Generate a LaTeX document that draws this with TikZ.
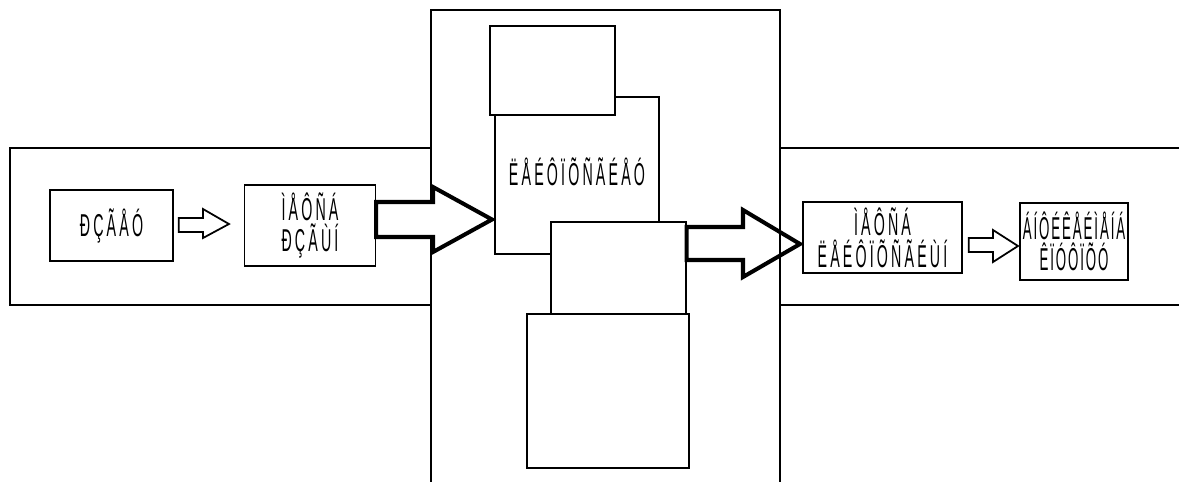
\documentclass[tikz,border=0pt]{standalone}
\usepackage{fontspec}
\newfontfamily\gf{Liberation Sans}[FakeStretch=0.45,LetterSpace=10]
\newfontfamily\gfn{Liberation Sans}[FakeStretch=0.42,LetterSpace=6]
\usetikzlibrary{calc}
\begin{document}
\begin{tikzpicture}[x=0.02cm,y=-0.02cm,
  box/.style={draw,line width=0.8pt,fill=white,inner sep=0pt,align=center,font=\gf\fontsize{18}{18}\selectfont},
  plain/.style={draw,line width=0.8pt,fill=white,inner sep=0pt},
  band/.style={line width=0.8pt},
  thinarrow/.style={line width=1pt,fill=white,line join=miter},
  fatarrow/.style={line width=2.3pt,line join=miter}]
\useasboundingbox (0,0) rectangle (1179,481);
% bands
\draw[band] (431,148) -- (10,148) -- (10,305) -- (431,305);
\draw[band] (780,148) -- (1179,148);
\draw[band] (780,305) -- (1179,305);
% centre frame
\draw[band] (431,485) -- (431,10) -- (780,10) -- (780,485);
% inner boxes
\node[plain,minimum width=3.28cm,minimum height=3.14cm] (mid) at (577,175.5) {};
\node[font=\gf\fontsize{18}{18}\selectfont] (midlab) at (577,172) {ËÅÉÔÏÕÑÃÉÅÓ};
\node[plain,minimum width=2.5cm,minimum height=1.78cm] (top) at (552.5,70.5) {};
\node[plain,minimum width=2.7cm,minimum height=1.84cm] (third) at (618.5,268) {};
\node[plain,minimum width=3.24cm,minimum height=3.08cm] (bottom) at (608,391) {};
% left chain
\node[box,minimum width=2.46cm,minimum height=1.42cm] (src) at (111.5,225.5) {ÐÇÃÅÓ};
\node[box,minimum width=2.62cm,minimum height=1.62cm] (msrc) at (310,225.5) {ÌÅÔÑÁ\\ÐÇÃÙÍ};
% right chain
\node[box,minimum width=3.18cm,minimum height=1.42cm] (mop) at (882.5,237.5) {ÌÅÔÑÁ\\ËÅÉÔÏÕÑÃÉÙÍ};
\node[box,font=\gfn\fontsize{18}{18}\selectfont,minimum width=2.16cm,minimum height=1.54cm] (cost) at (1074,241.5) {ÁÍÔÉÊÅÉÌÅÍÁ\\ÊÏÓÔÏÕÓ};
% small arrow 1
\coordinate (a1s) at ($(src.east)+(5,-1.5)$);
\coordinate (a1e) at (229,224);
\draw[thinarrow] (a1s |- 0,218) -- (203,218) -- (203,209) -- (a1e) -- (203,238) -- (203,232) -- (a1s |- 0,232) -- cycle;
% big arrow 1
\coordinate (b1e) at (492,219.5);
\draw[fatarrow,fill=white] (msrc.east |- 0,202) -- (433,202) -- (433,187) -- (b1e) -- (433,252) -- (433,237) -- (msrc.east |- 0,237) -- cycle;
% big arrow 2
\coordinate (b2e) at (800,244);
\draw[fatarrow] (third.east |- 0,227) -- (743,227) -- (743,210) -- (b2e) -- (743,277) -- (743,260) -- (third.east |- 0,260) -- cycle;
% small arrow 2
\coordinate (a2s) at ($(mop.east)+(6,0)$);
\coordinate (a2e) at (1018,246);
\draw[thinarrow] (a2s |- 0,238) -- (993,238) -- (993,230) -- (a2e) -- (993,262) -- (993,252) -- (a2s |- 0,252) -- cycle;
\end{tikzpicture}
\end{document}
